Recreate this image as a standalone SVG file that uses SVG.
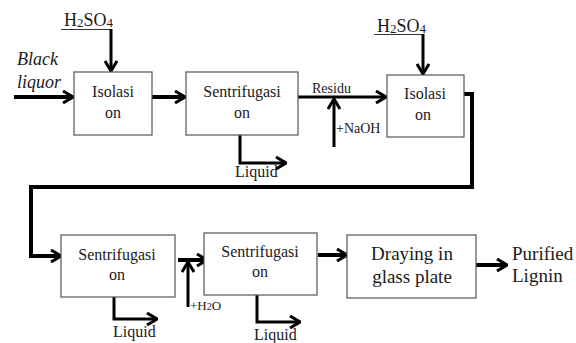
<svg xmlns="http://www.w3.org/2000/svg" width="576" height="343" viewBox="0 0 576 343">
<style>
.box{fill:#fff;stroke:#555;stroke-width:1.2}
.t{font-family:"Liberation Serif","Times New Roman",serif;fill:#1a1a1a}
.c16{font-size:16px}
.c14{font-size:14px}
.c19{font-size:19px}
.ln{fill:none;stroke:#000;stroke-linejoin:miter;stroke-linecap:butt}
.w4{stroke-width:4}
.w3{stroke-width:3}
.w1{stroke-width:1.2;stroke:#333}
</style>
<defs>
<marker id="ah" viewBox="0 0 12 14" refX="11" refY="7" markerWidth="12" markerHeight="14" markerUnits="userSpaceOnUse" orient="auto">
<path d="M1,1 L11,7 L1,13" fill="none" stroke="#000" stroke-width="3"/>
</marker>
</defs>
<g id="connectors">
<line class="ln w1" x1="61" y1="29.5" x2="111" y2="29.5"/>
<line class="ln w3" x1="111" y1="29" x2="111" y2="71" marker-end="url(#ah)"/>
<line class="ln w4" x1="14" y1="97" x2="73" y2="97" marker-end="url(#ah)"/>
<line class="ln w4" x1="152" y1="97" x2="185" y2="97" marker-end="url(#ah)"/>
<polyline class="ln w3" points="240,135 240,163 286,163" marker-end="url(#ah)"/>
<line class="ln w3" x1="298" y1="97" x2="386" y2="97" marker-end="url(#ah)"/>
<line class="ln w3" x1="334" y1="147" x2="334" y2="99" marker-end="url(#ah)"/>
<line class="ln w1" x1="374" y1="34.5" x2="423" y2="34.5"/>
<line class="ln w3" x1="423" y1="34" x2="423" y2="74" marker-end="url(#ah)"/>
<polyline class="ln w4" points="464,94 472,94 472,187 31,187 31,256 61,256" marker-end="url(#ah)"/>
<polyline class="ln w3" points="114,297 114,319 157,319" marker-end="url(#ah)"/>
<line class="ln w4" x1="178" y1="260" x2="207" y2="260" marker-end="url(#ah)"/>
<line class="ln w3" x1="188" y1="307" x2="188" y2="262" marker-end="url(#ah)"/>
<polyline class="ln w3" points="257,295 257,322 300,322" marker-end="url(#ah)"/>
<line class="ln w4" x1="318" y1="255" x2="347" y2="255" marker-end="url(#ah)"/>
<line class="ln w4" x1="476" y1="265" x2="507" y2="265" marker-end="url(#ah)"/>
</g>
<g id="isolasi1">
<rect class="box" x="74" y="72" width="78" height="63"/>
<text class="t c16" x="113" y="97" text-anchor="middle">Isolasi</text>
<text class="t c16" x="113" y="118" text-anchor="middle">on</text>
</g>
<g id="sentrifugasi1">
<rect class="box" x="186" y="72" width="112" height="63"/>
<text class="t c16" x="242" y="97" text-anchor="middle">Sentrifugasi</text>
<text class="t c16" x="242" y="118" text-anchor="middle">on</text>
</g>
<g id="isolasi2">
<rect class="box" x="387" y="75" width="77" height="62"/>
<text class="t c16" x="425" y="99" text-anchor="middle">Isolasi</text>
<text class="t c16" x="423" y="120" text-anchor="middle">on</text>
</g>
<g id="sentrifugasi2">
<rect class="box" x="61" y="235" width="114" height="62"/>
<text class="t c16" x="117" y="260" text-anchor="middle">Sentrifugasi</text>
<text class="t c16" x="117" y="280" text-anchor="middle">on</text>
</g>
<g id="sentrifugasi3">
<rect class="box" x="204" y="233" width="113" height="62"/>
<text class="t c16" x="260" y="257" text-anchor="middle">Sentrifugasi</text>
<text class="t c16" x="260" y="277" text-anchor="middle">on</text>
</g>
<g id="drying">
<rect class="box" x="347" y="235" width="129" height="63"/>
<text class="t c19" x="412" y="260" text-anchor="middle">Draying in</text>
<text class="t c19" x="412" y="283" text-anchor="middle">glass plate</text>
</g>
<g id="purified">
<text class="t c19" x="512" y="260">Purified</text>
<text class="t c19" x="512" y="282">Lignin</text>
</g>
<g id="labels">
<text class="t" font-size="18" x="64" y="26">H<tspan font-size="13" dy="1">2</tspan><tspan dy="-1">SO</tspan><tspan font-size="13" dy="1">4</tspan></text>
<text class="t" font-size="18" x="377" y="32">H<tspan font-size="13" dy="1">2</tspan><tspan dy="-1">SO</tspan><tspan font-size="13" dy="1">4</tspan></text>
<text class="t" font-size="18" font-style="italic" x="17" y="65">Black</text>
<text class="t" font-size="18" font-style="italic" x="17" y="88">liquor</text>
<text class="t c14" x="312" y="93">Residu</text>
<text class="t c14" x="336" y="133">+NaOH</text>
<text class="t c16" x="235" y="177">Liquid</text>
<text class="t c16" x="113" y="337">Liquid</text>
<text class="t c16" x="254" y="340">Liquid</text>
<text class="t" font-size="13" x="190" y="310">+H<tspan font-size="10">2</tspan>O</text>
</g>
</svg>
